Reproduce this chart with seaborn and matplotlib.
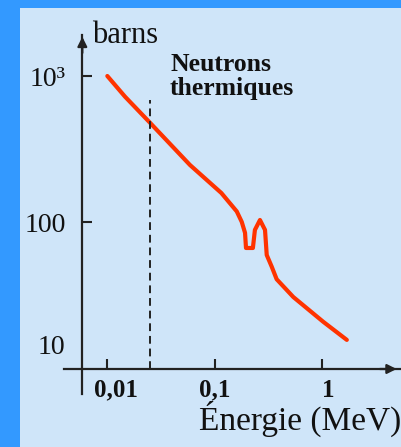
import numpy as np
import pandas as pd
import matplotlib
matplotlib.use('Agg')
import matplotlib.pyplot as plt
from matplotlib.patches import Rectangle
from matplotlib.transforms import ScaledTranslation
import seaborn as sns

# cross-section curve (MeV, barns)
energy = [0.01, 0.0146, 0.0244, 0.0587, 0.115, 0.160, 0.178, 0.191, 0.195,
          0.226, 0.236, 0.263, 0.293, 0.304, 0.338, 0.376, 0.537, 1.02, 1.69]
sigma = [1000, 723, 488, 247, 159, 119, 101, 85, 67,
         67, 89, 104, 89, 60, 50, 41, 31, 21, 15.8]

x_ticks = [0.01, 0.1, 1]
x_labels = ['0,01', '0,1', '1']
y_ticks = [100, 1000]
y_labels = ['100', '10³']
thermal_energy = 0.025
thermal_top = 685

sns.set_theme(style='white')
plt.rcParams['font.family'] = ['Liberation Serif', 'DejaVu Serif']

df = pd.DataFrame({'E': energy, 'sigma': sigma})

fig = plt.figure(figsize=(4.02, 4.47), dpi=100, facecolor='#3399FF')
# light panel on the blue frame
fig.patches.append(Rectangle((20 / 402, 0), 1, 439 / 447, transform=fig.transFigure,
                             facecolor='#CFE5F9', edgecolor='none', zorder=-5))

ax = fig.add_axes([64 / 402, 53 / 447, 336 / 402, 359 / 447])
ax.set_facecolor('none')
ax.set_xscale('log')
ax.set_yscale('log')
x0 = 0.005853
ax.set_xlim(0.003953, 5.28)
ax.set_ylim(6.75, 1905)

sns.lineplot(data=df, x='E', y='sigma', ax=ax, color='#FF3300', linewidth=3,
             estimator=None, sort=False)
ax.vlines(thermal_energy, 10, thermal_top, colors='#222222', linewidth=1.4,
          linestyles=(0, (4, 2.5)))

# axes drawn as arrows crossing at (x0, 10)
for s in ['top', 'right']:
    ax.spines[s].set_visible(False)
ax.spines['bottom'].set_position(('data', 10))
ax.spines['left'].set_position(('data', x0))
for s in ['bottom', 'left']:
    ax.spines[s].set_color('#222222')
    ax.spines[s].set_linewidth(1.6)

# arrow heads, placed in axes fraction
cx, cy = ax.transAxes.inverted().transform(ax.transData.transform((x0, 10)))
head = dict(arrowstyle='-|>', mutation_scale=14, color='#222222', lw=1.6,
            shrinkA=0, shrinkB=0)
ax.annotate('', xy=(0.99, cy), xycoords='axes fraction', xytext=(0.94, cy),
            textcoords='axes fraction', arrowprops=head, annotation_clip=False)
ax.annotate('', xy=(cx, 0.995), xycoords='axes fraction', xytext=(cx, 0.95),
            textcoords='axes fraction', arrowprops=head, annotation_clip=False)

ax.set_xticks(x_ticks)
ax.set_xticklabels(x_labels, fontweight='bold', fontsize=18)
ax.set_yticks(y_ticks)
ax.set_yticklabels(y_labels, fontsize=20)
ax.minorticks_off()
ax.tick_params(bottom=True, left=True, direction='in', length=7, width=1.5,
               color='#222222', labelcolor='#111111')
ax.tick_params(axis='x', pad=7)
ax.tick_params(axis='y', pad=12)
ax.set_xlabel('')
ax.set_ylabel('')
# the original labels sit a little right of their ticks
for lab, dx in zip(ax.get_xticklabels(), [0.09, 0.0, 0.06]):
    lab.set_transform(lab.get_transform() + ScaledTranslation(dx, 0, fig.dpi_scale_trans))

ax.annotate('10', xy=(x0, 10), xytext=(-12, 15.5), textcoords='offset points',
            ha='right', va='center', fontsize=20, color='#111111')
ax.text(0.0072, 1679, 'barns', fontsize=22, va='baseline', ha='left', color='#111111')
ax.text(0.0383, 1435, 'Neutrons\nthermiques', fontsize=18.5, fontweight='bold',
        va='top', ha='left', linespacing=1.05, color='#111111')
fig.text(401 / 402, 17 / 447, 'Énergie (MeV)', fontsize=24, ha='right', va='baseline',
         color='#111111')

fig.savefig('out.png', dpi=100, facecolor=fig.get_facecolor())
